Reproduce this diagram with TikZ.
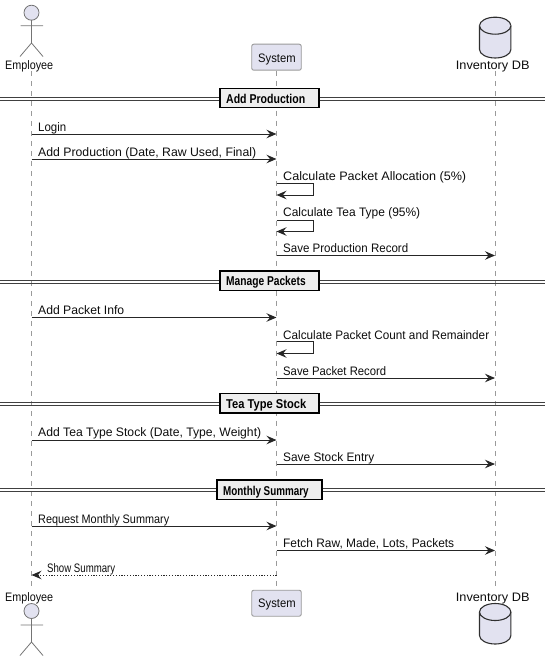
\documentclass[tikz,border=0pt]{standalone}
\usepackage{graphicx}
\usepackage{fontspec}
\setmainfont{Liberation Sans}
\usetikzlibrary{arrows.meta}
\newcommand{\fitw}[2]{\resizebox{#1pt}{\height}{#2}}
\definecolor{partfill}{HTML}{E2E2F0}
\definecolor{partline}{HTML}{181818}
\definecolor{lifegray}{HTML}{9A9A9A}
\definecolor{divfill}{HTML}{EEEEEE}
\tikzset{
  x=1pt,y=-1pt,
  actorline/.style={draw=partline!60,line width=0.8pt},
  actorhead/.style={draw=partline!60,fill=partfill,line width=0.8pt},
  dbshape/.style={draw=partline!90,fill=partfill,line width=1.1pt},
  partbox/.style={draw=lifegray,fill=partfill,rounded corners=2pt,line width=0.9pt,minimum width=49.5pt,minimum height=26pt,inner sep=0pt},
  partlabel/.style={anchor=base west,inner sep=0pt,font=\fontsize{12.3}{14}\selectfont,text=black!95},
  life/.style={draw=lifegray,line width=0.9pt,dash pattern=on 5pt off 5pt},
  msg/.style={draw=black!85,line width=1pt,-{Stealth[length=10pt,width=8.5pt,inset=3.5pt]}},
  reply/.style={msg,dash pattern=on 1.2pt off 1.6pt},
  msgtext/.style={anchor=base west,inner sep=0pt,font=\fontsize{12.3}{14}\selectfont,text=black!95},
  divline/.style={draw=black!75,line width=1pt},
  divbox/.style={draw=black,fill=divfill,line width=1.4pt,inner sep=0pt,minimum height=19.5pt},
  divtext/.style={anchor=base west,inner sep=0pt,font=\fontsize{12.8}{14}\bfseries,text=black},
}
\begin{document}
\begin{tikzpicture}
\useasboundingbox (0,0) rectangle (545,661);
% anchors of the lifelines
\coordinate (empTop) at (31.5,71);
\coordinate (empBot) at (31.5,587);
\coordinate (dbTop) at (495,71);
\coordinate (dbBot) at (495,587);
% participants
\node[partbox] (sysT) at (276.5,57.2) {};
\node[partbox] (sysB) at (276.5,603.2) {};
\node[partlabel] (sysLT) at (258,62.3) {\fitw{37.5}{System}};
\node[partlabel] (sysLB) at (258,607.7) {\fitw{37.5}{System}};
\node[partlabel] (empLT) at (5,69.5) {\fitw{48}{Employee}};
\node[partlabel] (empLB) at (5,601.7) {\fitw{48}{Employee}};
\node[partlabel] (dbLT) at (455.7,69.5) {\fitw{73.6}{Inventory DB}};
\node[partlabel] (dbLB) at (455.7,601.7) {\fitw{73.6}{Inventory DB}};
% lifelines
\draw[life] (empTop) -- (empBot);
\draw[life] (sysT) -- (sysB);
\draw[life] (dbTop) -- (dbBot);
% actors
\draw[actorhead] (31.5,12.7) circle[radius=7.5];
\draw[actorline] (31.5,20.2) -- (31.5,43) (20.5,25.7) -- (43,25.7) (20,56.5) -- (31.5,43) -- (43,56.5);
\draw[actorhead] (31.5,611) circle[radius=7.5];
\draw[actorline] (31.5,618.5) -- (31.5,642) (20.5,625) -- (43,625) (20,655.5) -- (31.5,642) -- (43,655.5);
% databases
\draw[dbshape] (479.5,25.7) arc[start angle=180,end angle=0,x radius=15.7pt,y radius=8.5pt] -- (510.9,49.5) arc[start angle=0,end angle=-180,x radius=15.7pt,y radius=8.5pt] -- cycle;
\draw[dbshape] (479.5,25.7) arc[start angle=180,end angle=360,x radius=15.7pt,y radius=8.5pt];
\draw[dbshape] (479.5,612) arc[start angle=180,end angle=0,x radius=15.7pt,y radius=8.5pt] -- (510.9,635.5) arc[start angle=0,end angle=-180,x radius=15.7pt,y radius=8.5pt] -- cycle;
\draw[dbshape] (479.5,612) arc[start angle=180,end angle=360,x radius=15.7pt,y radius=8.5pt];
% dividers
\foreach \yy/\by/\tb/\nm/\txt/\boxw/\cx/\tx/\tw in {
  98.5/98/103.3/a/Add Production/99/269.5/226/79,
  281.5/280.7/285.7/b/Manage Packets/99/269.5/226/79.5,
  404/403.3/408.3/c/Tea Type Stock/99/269.5/226/80,
  490/489.7/495/d/Monthly Summary/105/269.5/223/85.5}{
  \draw[divline] (0,\yy-1.5) -- (545,\yy-1.5) (0,\yy+1.5) -- (545,\yy+1.5);
  \node[divbox,minimum width=\boxw pt] (div\nm) at (\cx,\by) {};
  \node[divtext] (divt\nm) at (\tx,\tb) {\fitw{\tw}{\txt}};
}
% message rows
\coordinate (m1) at (0,134);
\coordinate (m2) at (0,159);
\coordinate (m3) at (0,255.5);
\coordinate (m4) at (0,317.5);
\coordinate (m5) at (0,378);
\coordinate (m6) at (0,440);
\coordinate (m7) at (0,464);
\coordinate (m8) at (0,526);
\coordinate (m9) at (0,550.5);
\coordinate (m10) at (0,575);
\draw[msg] (empTop |- m1) -- (sysT |- m1);
\draw[msg] (empTop |- m2) -- (sysT |- m2);
\draw[msg] (sysT |- m3) -- (dbTop |- m3);
\draw[msg] (empTop |- m4) -- (sysT |- m4);
\draw[msg] (sysT |- m5) -- (dbTop |- m5);
\draw[msg] (empTop |- m6) -- (sysT |- m6);
\draw[msg] (sysT |- m7) -- (dbTop |- m7);
\draw[msg] (empTop |- m8) -- (sysT |- m8);
\draw[msg] (sysT |- m9) -- (dbTop |- m9);
\draw[reply] (sysT |- m10) -- (empTop |- m10);
% self messages
\coordinate (s1) at (313.5,183.3);
\coordinate (s2) at (313.5,195);
\coordinate (s3) at (313.5,220);
\coordinate (s4) at (313.5,231.5);
\coordinate (s5) at (313.5,341.7);
\coordinate (s6) at (313.5,353.5);
\draw[msg] (sysT |- s1) -- (s1) -- (s2) -- (sysT |- s2);
\draw[msg] (sysT |- s3) -- (s3) -- (s4) -- (sysT |- s4);
\draw[msg] (sysT |- s5) -- (s5) -- (s6) -- (sysT |- s6);
% labels
\node[msgtext] (t1) at (38,131) {\fitw{28}{Login}};
\node[msgtext] (t2) at (38,156) {\fitw{218}{Add Production (Date, Raw Used, Final)}};
\node[msgtext] (t3) at (283,180.5) {\fitw{183}{Calculate Packet Allocation (5\%)}};
\node[msgtext] (t4) at (283,216.7) {\fitw{137}{Calculate Tea Type (95\%)}};
\node[msgtext] (t5) at (283,252) {\fitw{125}{Save Production Record}};
\node[msgtext] (t6) at (38,314) {\fitw{86}{Add Packet Info}};
\node[msgtext] (t7) at (283,339) {\fitw{206}{Calculate Packet Count and Remainder}};
\node[msgtext] (t8) at (283,375) {\fitw{103}{Save Packet Record}};
\node[msgtext] (t9) at (38,436.7) {\fitw{223}{Add Tea Type Stock (Date, Type, Weight)}};
\node[msgtext] (t10) at (283,461.5) {\fitw{91}{Save Stock Entry}};
\node[msgtext] (t11) at (38,523) {\fitw{131}{Request Monthly Summary}};
\node[msgtext] (t12) at (283,547) {\fitw{171}{Fetch Raw, Made, Lots, Packets}};
\node[msgtext] (t13) at (47,572.5) {\fitw{68}{Show Summary}};
\end{tikzpicture}
\end{document}
